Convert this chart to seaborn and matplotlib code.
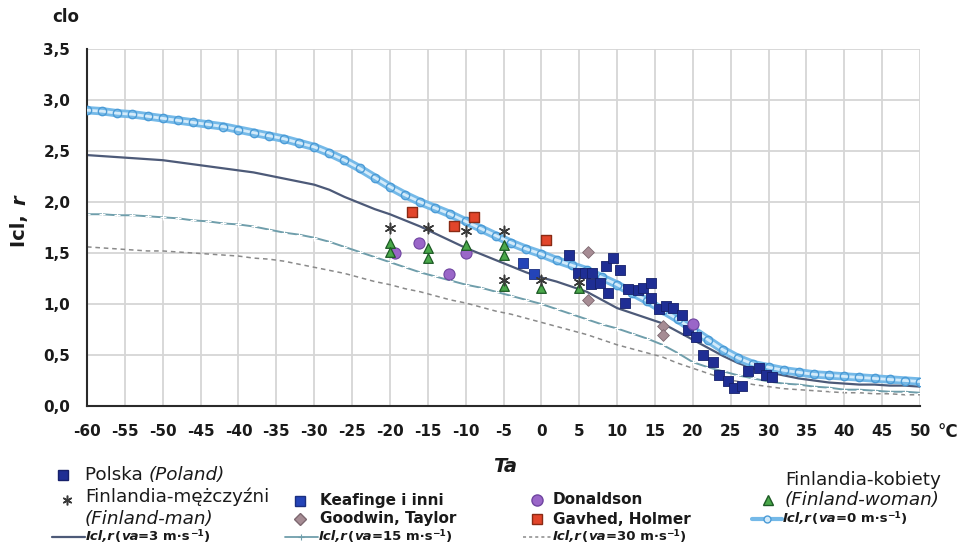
import matplotlib
matplotlib.use("Agg")
import matplotlib.pyplot as plt
import seaborn as sns
import numpy as np
import pandas as pd
from matplotlib.lines import Line2D

# ---------------- data ----------------
ta_curve = list(range(-60, 51, 2))
icl_va0 = [2.90, 2.89, 2.87, 2.86, 2.84, 2.82, 2.80, 2.78, 2.76, 2.74, 2.71, 2.68, 2.65, 2.62,
           2.58, 2.54, 2.48, 2.41, 2.33, 2.24, 2.15, 2.07, 2.00, 1.94, 1.88, 1.81, 1.74, 1.67,
           1.60, 1.54, 1.49, 1.43, 1.38, 1.33, 1.26, 1.19, 1.11, 1.03, 0.94, 0.85, 0.75, 0.65,
           0.55, 0.47, 0.41, 0.38, 0.35, 0.33, 0.31, 0.30, 0.29, 0.28, 0.27, 0.26, 0.25, 0.24]
icl_va3 = [2.46, 2.45, 2.44, 2.43, 2.42, 2.41, 2.39, 2.37, 2.35, 2.33, 2.31, 2.29, 2.26, 2.23,
           2.20, 2.17, 2.12, 2.05, 1.99, 1.93, 1.88, 1.82, 1.76, 1.69, 1.62, 1.55, 1.49, 1.43,
           1.37, 1.31, 1.26, 1.22, 1.17, 1.12, 1.04, 0.96, 0.91, 0.86, 0.81, 0.73, 0.65, 0.57,
           0.49, 0.42, 0.37, 0.33, 0.30, 0.27, 0.25, 0.23, 0.22, 0.21, 0.21, 0.20, 0.20, 0.19]
icl_va15 = [1.88, 1.88, 1.87, 1.87, 1.86, 1.85, 1.84, 1.82, 1.81, 1.79, 1.78, 1.76, 1.73, 1.70,
            1.68, 1.65, 1.61, 1.56, 1.51, 1.46, 1.41, 1.36, 1.31, 1.27, 1.23, 1.19, 1.16, 1.12,
            1.08, 1.04, 1.00, 0.95, 0.90, 0.85, 0.80, 0.76, 0.71, 0.66, 0.60, 0.52, 0.43, 0.38,
            0.34, 0.30, 0.27, 0.24, 0.22, 0.21, 0.19, 0.18, 0.16, 0.16, 0.15, 0.14, 0.14, 0.13]
icl_va30 = [1.56, 1.55, 1.54, 1.53, 1.52, 1.52, 1.51, 1.50, 1.49, 1.48, 1.47, 1.45, 1.44, 1.42,
            1.39, 1.36, 1.33, 1.30, 1.26, 1.22, 1.19, 1.15, 1.12, 1.08, 1.04, 1.01, 0.97, 0.93,
            0.90, 0.86, 0.82, 0.78, 0.74, 0.70, 0.65, 0.60, 0.56, 0.52, 0.48, 0.42, 0.37, 0.32,
            0.27, 0.24, 0.21, 0.19, 0.17, 0.16, 0.15, 0.14, 0.13, 0.13, 0.12, 0.12, 0.11, 0.11]

polska_ta = [3.7, 4.9, 5.8, 6.7, 6.6, 7.8, 8.6, 9.5, 10.4, 8.8, 11.1, 11.5, 12.7, 13.4, 14.5,
             14.5, 15.6, 16.5, 17.4, 18.6, 19.4, 20.4, 21.4, 22.6, 23.5, 24.7, 25.5, 26.5,
             27.3, 28.8, 29.6, 30.5]
polska_icl = [1.48, 1.30, 1.30, 1.30, 1.20, 1.21, 1.37, 1.45, 1.33, 1.11, 1.01, 1.15, 1.14,
              1.16, 1.21, 1.06, 0.95, 0.98, 0.96, 0.89, 0.75, 0.68, 0.50, 0.43, 0.30, 0.25,
              0.18, 0.20, 0.34, 0.37, 0.30, 0.28]
fin_man_ta = [-20, -15, -10, -5, -5, 0, 5]
fin_man_icl = [1.75, 1.75, 1.72, 1.72, 1.24, 1.24, 1.22]
fin_woman_ta = [-20, -20, -15, -15, -10, -5, -5, -5, 0, 5]
fin_woman_icl = [1.60, 1.51, 1.55, 1.45, 1.58, 1.58, 1.48, 1.18, 1.16, 1.16]
keaf_ta = [-2.4, -0.95]
keaf_icl = [1.40, 1.29]
goodwin_ta = [6.1, 6.1, 16.1, 16.1]
goodwin_icl = [1.51, 1.04, 0.78, 0.70]
donald_ta = [-19.3, -16.1, -12.2, -10.0, 20.0]
donald_icl = [1.50, 1.60, 1.29, 1.50, 0.80]
gavhed_ta = [-17.1, -11.6, -8.9, 0.6]
gavhed_icl = [1.90, 1.76, 1.85, 1.63]

x_ticks = list(range(-60, 51, 5))
y_ticks = [0.0, 0.5, 1.0, 1.5, 2.0, 2.5, 3.0, 3.5]

# ---------------- style ----------------
sns.set_style("white")
plt.rcParams["font.family"] = ["DejaVu Sans"]

W, H = 963, 549
fig = plt.figure(figsize=(W / 100, H / 100), dpi=100)
ax = fig.add_axes([87 / W, 1 - 406 / H, (920 - 87) / W, (406 - 49) / H])

C_VA0 = "#74b9e8"
C_VA0_EDGE = "#4b9bd6"
C_VA0_IN = "#d4ebfa"
C_VA3 = "#4d5a78"
C_VA15 = "#6f9eab"
C_VA30 = "#8a8a8a"

sns.lineplot(x=ta_curve, y=icl_va30, ax=ax, color=C_VA30, lw=1.1, linestyle=(0, (3, 2.5)),
             legend=False, zorder=2)
sns.lineplot(x=ta_curve, y=icl_va15, ax=ax, color=C_VA15, lw=1.4, marker="+", markersize=4,
             markeredgewidth=0.8, legend=False, zorder=2)
sns.lineplot(x=ta_curve, y=icl_va3, ax=ax, color=C_VA3, lw=1.6, legend=False, zorder=2)
# va=0: chain-like band (outer band, light core, hollow circles)
sns.lineplot(x=ta_curve, y=icl_va0, ax=ax, color=C_VA0, lw=6, legend=False, zorder=3,
             solid_capstyle="round")
sns.lineplot(x=ta_curve, y=icl_va0, ax=ax, color=C_VA0_IN, lw=2.0, marker="o",
             markersize=6, markerfacecolor="none", markeredgecolor=C_VA0_EDGE,
             markeredgewidth=1.0, legend=False, zorder=3)

sns.scatterplot(x=polska_ta, y=polska_icl, ax=ax, marker="s", s=50, color="#1f2e94",
                edgecolor="#16206a", linewidth=0.6, zorder=5, legend=False)
sns.scatterplot(x=keaf_ta, y=keaf_icl, ax=ax, marker="s", s=46, color="#2444b8",
                edgecolor="#1a2f80", linewidth=0.6, zorder=5, legend=False)
sns.scatterplot(x=gavhed_ta, y=gavhed_icl, ax=ax, marker="s", s=50, color="#e2452a",
                edgecolor="#8a2a14", linewidth=1.0, zorder=5, legend=False)
sns.scatterplot(x=donald_ta, y=donald_icl, ax=ax, marker="o", s=64, color="#9a66c8",
                edgecolor="#6f45a0", linewidth=0.8, zorder=5, legend=False)
sns.scatterplot(x=goodwin_ta, y=goodwin_icl, ax=ax, marker="D", s=36, color="#a68c94",
                edgecolor="#7d6870", linewidth=0.6, zorder=5, legend=False)
sns.scatterplot(x=fin_woman_ta, y=fin_woman_icl, ax=ax, marker="^", s=48, color="#4aa84a",
                edgecolor="#1d5a25", linewidth=0.9, zorder=6, legend=False)
sns.scatterplot(x=fin_man_ta, y=fin_man_icl, ax=ax, marker=(6, 2, 0), s=55, color="#3a3a3a",
                linewidth=1.1, zorder=6, legend=False)

ax.set_xlim(-60, 50)
ax.set_ylim(0, 3.5)
ax.set_xticks(x_ticks)
ax.set_yticks(y_ticks)
ax.set_xticklabels([str(v) for v in x_ticks])
ax.set_yticklabels([f"{v:.1f}".replace(".", ",") for v in y_ticks])
ax.grid(True, color="#d6d6d6", lw=1.3, zorder=0)
ax.set_axisbelow(True)
for s in ["top", "right"]:
    ax.spines[s].set_visible(False)
for s in ["left", "bottom"]:
    ax.spines[s].set_color("#2a2a2a")
    ax.spines[s].set_linewidth(1.5)
ax.tick_params(axis="both", direction="out", length=6, width=1.2, color="#2a2a2a",
               labelsize=11, labelcolor="#1a1a1a")
ax.tick_params(axis="x", pad=7)
ax.tick_params(axis="y", pad=6)
for lab in ax.get_xticklabels() + ax.get_yticklabels():
    lab.set_fontweight("bold")
ax.set_xlabel("")
ax.set_ylabel("")

# ---------------- texts ----------------
def fx(px):
    return px / W


def fy(py):
    return 1 - py / H


renderer = fig.canvas.get_renderer()


def runs(x, y, parts, size, color="#1a1a1a"):
    for p in parts:
        txt, weight, style = p[0], p[1], p[2]
        sz = p[3] if len(p) > 3 else size
        dy = p[4] if len(p) > 4 else 0
        t = fig.text(fx(x), fy(y + dy), txt, ha="left", va="center", fontsize=sz,
                     fontweight=weight, fontstyle=style, color=color,
                     family=["DejaVu Sans"])
        bb = t.get_window_extent(renderer=renderer)
        x += bb.width


fig.text(fx(66), fy(17), "clo", ha="center", va="center", fontsize=12, fontweight="bold",
         color="#1a1a1a")
t = fig.text(fx(20), fy(227), "Icl, ", rotation=90, ha="center", va="center", fontsize=14,
             fontweight="bold", color="#1a1a1a")
bb = t.get_window_extent(renderer=renderer)
fig.text(fx(20), fy(227) + bb.height / H / 2 + 0.012, "r", rotation=90, ha="center",
         va="center", fontsize=14, fontweight="bold", fontstyle="italic", color="#1a1a1a")
fig.text(fx(505), fy(467), "Ta", ha="center", va="center", fontsize=14, fontweight="bold",
         fontstyle="italic", color="#1a1a1a")
fig.text(fx(948), fy(432), "°C", ha="center", va="center", fontsize=12, fontweight="bold",
         color="#1a1a1a")

# ---------------- legend ----------------
def key_marker(x, y, **kw):
    fig.add_artist(Line2D([fx(x)], [fy(y)], transform=fig.transFigure, linestyle="none", **kw))


def key_line(x0, x1, y, **kw):
    fig.add_artist(Line2D([fx(x0), fx(x1)], [fy(y), fy(y)], transform=fig.transFigure, **kw))


def va_label(x, y, val):
    runs(x, y, [("Icl,r", "bold", "italic"), ("(", "bold", "normal"),
                ("va", "bold", "italic"), (f"={val} m·s", "bold", "normal"),
                ("−1", "bold", "normal", 6.5, -4), (")", "bold", "normal")], 9.5)


NORM = 13.2
BOLDS = 11

# column 1
key_marker(63, 475, marker="s", markersize=7.5, color="#1f2e94", mec="#16206a")
runs(85, 475, [("Polska ", "normal", "normal"), ("(Poland)", "normal", "italic")], NORM)
key_marker(67, 500, marker=(6, 2, 0), markersize=7, color="#3a3a3a", mew=1.1)
runs(85, 497, [("Finlandia-mężczyźni", "normal", "normal")], NORM)
runs(85, 519, [("(Finland-man)", "normal", "italic")], NORM)
key_line(52, 85, 537, color=C_VA3, lw=1.6)
va_label(86, 537, "3")

# column 2
key_marker(300, 501, marker="s", markersize=6.5, color="#2444b8", mec="#1a2f80")
runs(320, 501, [("Keafinge i inni", "bold", "normal")], BOLDS)
key_marker(300, 519, marker="D", markersize=6, color="#a68c94", mec="#7d6870")
runs(320, 519, [("Goodwin, Taylor", "bold", "normal")], BOLDS)
key_line(285, 318, 537, color=C_VA15, lw=1.3)
key_marker(301, 537, marker="+", markersize=4, color=C_VA15, mew=0.8)
va_label(319, 537, "15")

# column 3
key_marker(537, 500, marker="o", markersize=8, color="#9a66c8", mec="#6f45a0")
runs(553, 500, [("Donaldson", "bold", "normal")], BOLDS)
key_marker(537, 519, marker="s", markersize=7, color="#e2452a", mec="#8a2a14")
runs(553, 519, [("Gavhed, Holmer", "bold", "normal")], BOLDS)
key_line(523, 552, 537, color=C_VA30, lw=1.1, linestyle=(0, (2, 2)))
va_label(553, 537, "30")

# column 4
runs(785, 480, [("Finlandia-kobiety", "normal", "normal")], NORM)
key_marker(768, 500, marker="^", markersize=6.5, color="#4aa84a", mec="#1d5a25")
runs(785, 500, [("(Finland-woman)", "normal", "italic")], NORM)
key_line(752, 782, 519, color=C_VA0, lw=3)
key_marker(767, 519, marker="o", markersize=5, mfc=C_VA0_IN, mec=C_VA0_EDGE, mew=1)
va_label(783, 519, "0")

fig.savefig("out.png", dpi=100)
